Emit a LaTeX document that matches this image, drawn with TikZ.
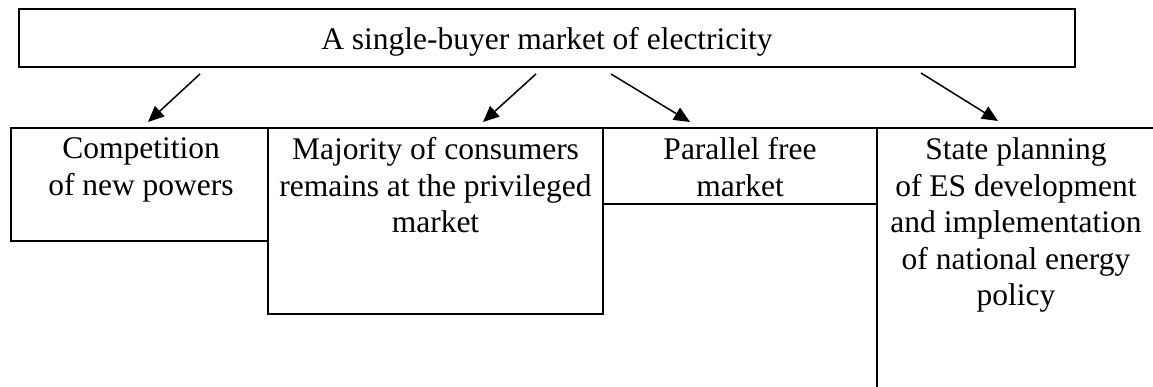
\documentclass[tikz,border=0pt]{standalone}
\usepackage{fontspec}
\setmainfont{Liberation Serif}
\usetikzlibrary{arrows.meta}
\tikzset{
  frame/.style={line width=2.4pt},
  cell/.style={line width=1.8pt},
  label/.style={inner sep=0pt, align=center, anchor=north,
    font=\fontsize{31.5}{36.5}\selectfont},
  link/.style={line width=1.5pt, -{Triangle[length=16pt,width=14pt]}}
}
\begin{document}
\begin{tikzpicture}[x=1pt,y=-1pt]
  \useasboundingbox (0,0) rectangle (1153,387);

  % heading box
  \draw[frame] (19,9) rectangle (1075,67);
  \node[label] (head) at (547,27.5) {A single-buyer market of electricity};

  % row of boxes below
  \draw[cell] (11,128) rectangle (268,241);
  \draw[cell] (268,128) rectangle (603,314);
  \draw[cell] (603,128) rectangle (877,204);
  \draw[cell] (1153,128) -- (877,128) -- (877,387);

  \node[label] (comp) at (141,137.5) {Competition\\of new powers};
  \node[label] (major) at (435.5,137.5) {Majority of consumers\\remains at the privileged\\market};
  \node[label] (free) at (740,137.5) {Parallel free\\market};
  \node[label] (state) at (1016,137.5) {State planning\\of ES development\\and implementation\\of national energy\\policy};

  % arrow end points
  \coordinate (s1) at (200,74);  \coordinate (e1) at (148,122);
  \coordinate (s2) at (536,74);  \coordinate (e2) at (483,122);
  \coordinate (s3) at (611,74);  \coordinate (e3) at (690,122);
  \coordinate (s4) at (921,73);  \coordinate (e4) at (998,121);

  \draw[link] (s1) -- (e1);
  \draw[link] (s2) -- (e2);
  \draw[link] (s3) -- (e3);
  \draw[link] (s4) -- (e4);
\end{tikzpicture}
\end{document}
